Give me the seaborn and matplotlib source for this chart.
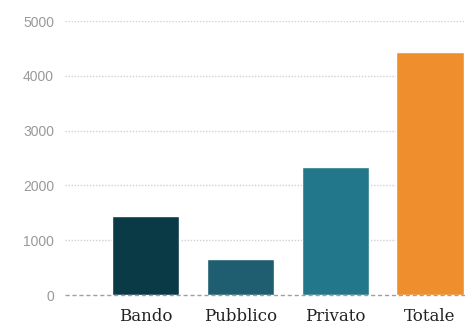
import numpy as np
import pandas as pd
import matplotlib.pyplot as plt
import seaborn as sns

# ----------------------------------
# Data
# ----------------------------------

categories = ["Bando", "Pubblico", "Privato", "Totale"]
values = [1450, 650, 2330, 4430]
colors = ["#0b3a47", "#1e5e70", "#23778a", "#ef8e2c"]
y_ticks = [0, 1000, 2000, 3000, 4000, 5000]

df = pd.DataFrame({"categoria": categories, "valore": values})

# ----------------------------------
# Plot
# ----------------------------------

sns.set_style("white")

fig = plt.figure(figsize=(4.65, 3.29), dpi=100)
ax = fig.add_axes([0.14, 0.1033, 0.86, 0.8327])

sns.barplot(
    data=df,
    x="categoria",
    y="valore",
    hue="categoria",
    palette=colors,
    saturation=1,
    width=0.71,
    legend=False,
    ax=ax,
    zorder=3
)

ax.set_ylim(0, 5000)
ax.set_xlim(-0.85, 3.37)
ax.set_yticks(y_ticks)

for t in y_ticks[1:]:
    ax.axhline(t, color="#d0d0d0", linestyle=(0, (1, 1.2)), linewidth=1, zorder=1)
ax.axhline(0, color="#a0a0a0", linestyle=(0, (3, 2)), linewidth=1, zorder=4, clip_on=False)

for s in ax.spines.values():
    s.set_visible(False)

ax.set_xlabel("")
ax.set_ylabel("")
ax.tick_params(axis="y", length=0, pad=8, labelsize=10, labelcolor="#999999")
ax.tick_params(axis="x", length=0, pad=9)

for lab in ax.get_xticklabels():
    lab.set_family("DejaVu Serif")
    lab.set_fontsize(12)
    lab.set_color("#222222")

for lab in ax.get_yticklabels():
    lab.set_family("Liberation Sans")

fig.savefig("out.png", dpi=100)
